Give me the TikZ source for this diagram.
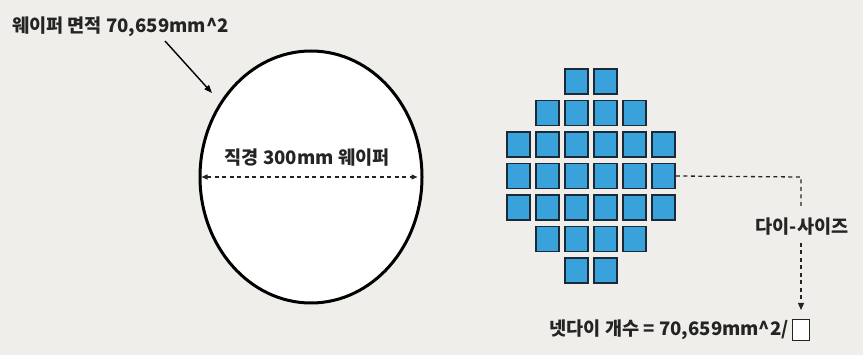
\documentclass[tikz,border=0pt]{standalone}
\usepackage{fontspec}
\setmainfont{Noto Sans CJK KR}
\usetikzlibrary{arrows.meta,shapes.geometric}
\definecolor{bg}{HTML}{F0EEEB}
\definecolor{diefill}{HTML}{3AA2DA}
\definecolor{dieedge}{HTML}{1C2A38}
\definecolor{txt}{HTML}{242424}
\tikzset{
  lbl/.style={text=txt, font=\fontsize{18.6}{22}\selectfont\bfseries, inner sep=0pt},
  die/.style={draw=dieedge, line width=1.6pt, fill=diefill, minimum width=23pt, minimum height=25pt, inner sep=0pt},
  dline/.style={draw=txt, line width=1.3pt, dash pattern=on 4pt off 3.5pt},
}
\begin{document}
\begin{tikzpicture}[x=1pt,y=-1pt]
\fill[bg] (0,0) rectangle (863,355);
\useasboundingbox (0,0) rectangle (863,355);
% wafer
\node[ellipse, draw=black, line width=3pt, fill=white, minimum width=222pt, minimum height=252pt, inner sep=0pt] (wafer) at (311,177) {};
\node[lbl, anchor=west] (title) at (12,27) {웨이퍼 면적 70,659mm\^{}2};
\coordinate (tstart) at (165,41);
\coordinate (ttip) at (212,93);
\draw[line width=1.4pt, -{Triangle[length=8pt,width=6pt]}] (tstart) -- (ttip);
\node[lbl] (diam) at (307,158) {직경 300mm 웨이퍼};
\draw[dline, {Triangle[length=6pt,width=5pt]}-{Triangle[length=6pt,width=5pt]}, shorten <=3pt, shorten >=6pt] (wafer.west) -- (wafer.east);
% dies
\foreach \r/\cs in {0/{2,3},1/{1,2,3,4},2/{0,1,2,3,4,5},3/{0,1,2,3,4,5},4/{0,1,2,3,4,5},5/{1,2,3,4},6/{2,3}}{
  \foreach \c in \cs {
    \node[die] (d\r\c) at ({518.5+29*\c},{81.5+31.5*\r}) {};
  }
}
% die size
\coordinate (corner) at (801,177);
\node[lbl] (size) at (802,227) {다이-사이즈};
\node[draw=txt, line width=1pt, fill=white, minimum width=17pt, minimum height=21pt, inner sep=0pt] (qbox) at (801,330) {};
\node[lbl, anchor=east] (formula) at (789,330) {넷다이 개수 = 70,659mm\^{}2/};
\draw[dline] (d35.east) -- (corner) -- ([yshift=12pt]size.north -| corner);
\draw[dline, -{Triangle[length=7pt,width=6pt]}] ([yshift=-7pt]size.south -| corner) -- ([yshift=9pt]qbox.north);
\end{tikzpicture}
\end{document}
